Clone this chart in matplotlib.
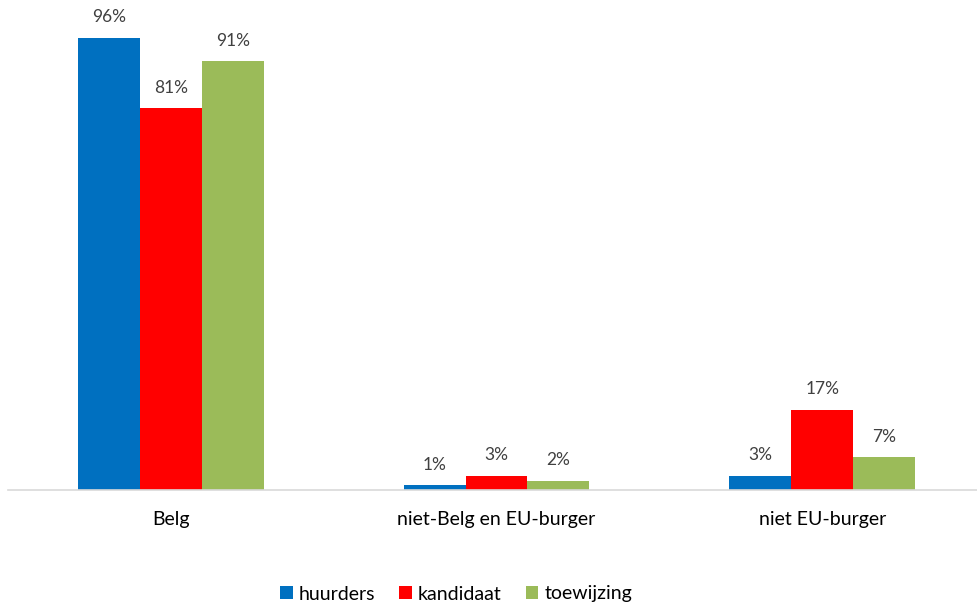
import matplotlib
matplotlib.use("Agg")
import matplotlib.pyplot as plt
import numpy as np

plt.rcParams['font.family'] = ['Lato', 'DejaVu Sans']

categories = ["Belg", "niet-Belg en EU-burger", "niet EU-burger"]
series_names = ["huurders", "kandidaat", "toewijzing"]
huurders = [96, 1, 3]
kandidaat = [81, 3, 17]
toewijzing = [91, 2, 7]
colors = ["#0070C0", "#FF0000", "#9BBB59"]

W, H = 977, 608
fig = plt.figure(figsize=(W / 100, H / 100), dpi=100)
# axes spans one full category band per group; right edge runs past the canvas
left_px, right_px = 8, 985
base_px, top_px = 490, 19
ax = fig.add_axes([left_px / W, (H - base_px) / H,
                   (right_px - left_px) / W, (base_px - top_px) / H])

x = np.arange(len(categories))
bw = 0.19
for i, (vals, name, c) in enumerate(zip([huurders, kandidaat, toewijzing], series_names, colors)):
    pos = x + (i - 1) * bw
    bars = ax.bar(pos, vals, width=bw, color=c, label=name, zorder=2)
    for b, v in zip(bars, vals):
        ax.annotate(f"{v}%", (b.get_x() + b.get_width() / 2, v),
                    xytext=(0, 9), textcoords="offset points",
                    ha="center", va="bottom", fontsize=12.5, color="#404040")

ax.set_xlim(-0.5, 2.5)
ax.set_ylim(0, 100)
ax.set_yticks([])
ax.set_xticks(x)
ax.set_xticklabels(categories, fontsize=14, color="#000000")
ax.tick_params(axis="x", length=0, pad=15)
for s in ["top", "right", "left"]:
    ax.spines[s].set_visible(False)
ax.spines["bottom"].set_color("#d9d9d9")
ax.spines["bottom"].set_linewidth(1.2)

handles, labels = ax.get_legend_handles_labels()
leg = fig.legend(handles, labels, loc="center", bbox_to_anchor=(456 / W, (H - 594) / H),
                 ncol=3, frameon=False, fontsize=14, handlelength=0.65, handleheight=0.65,
                 handletextpad=0.3, columnspacing=1.25)

fig.savefig("out.png", dpi=100)
